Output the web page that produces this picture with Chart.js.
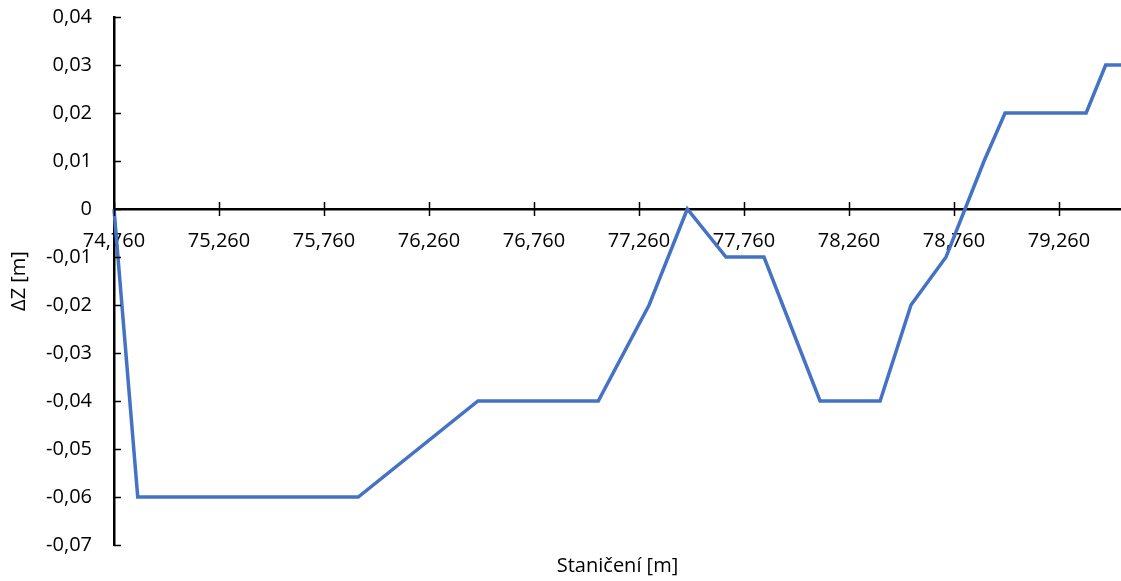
<!DOCTYPE html>
<html>
<head>
<meta charset="utf-8">
<script src="https://cdn.jsdelivr.net/npm/chart.js@4"></script>
<style>
  body { margin: 0; background: white; }
  #wrap { width: 1121px; height: 581px; }
</style>
</head>
<body>
<div id="wrap"><canvas id="profile-chart"></canvas></div>
<script>
// Staničení [km] a rozdíl výšek [m]
const stations = [74.760, 74.873, 75.923, 76.493, 77.066, 77.308, 77.490, 77.674, 77.855,
                  78.122, 78.408, 78.555, 78.722, 78.903, 79.003, 79.389, 79.482, 79.555];
const deltaZ   = [0, -0.06, -0.06, -0.04, -0.04, -0.02, 0, -0.01, -0.01,
                  -0.04, -0.04, -0.02, -0.01, 0.01, 0.02, 0.02, 0.03, 0.03];

const xTicks = [74.76, 75.26, 75.76, 76.26, 76.76, 77.26, 77.76, 78.26, 78.76, 79.26];
const xTickLabels = ['74,760', '75,260', '75,760', '76,260', '76,760', '77,260', '77,760', '78,260', '78,760', '79,260'];
const yTicks = [-0.07, -0.06, -0.05, -0.04, -0.03, -0.02, -0.01, 0, 0.01, 0.02, 0.03, 0.04];
const yTickLabels = ['-0,07', '-0,06', '-0,05', '-0,04', '-0,03', '-0,02', '-0,01', '0', '0,01', '0,02', '0,03', '0,04'];

const FONT = "'Open Sans', 'Noto Sans', sans-serif";

// tick marks: crossing on x axis, pointing inward on y axis, plus bottom title
const axisDecor = {
    id: 'axisDecor',
    afterDraw(chart) {
        const ctx = chart.ctx;
        const x = chart.scales.x, y = chart.scales.y;
        const y0 = y.getPixelForValue(0);
        ctx.save();
        ctx.strokeStyle = '#000';
        ctx.lineWidth = 1.5;
        ctx.beginPath();
        x.ticks.forEach(t => {
            const px = Math.round(x.getPixelForValue(t.value)) + 0.5;
            ctx.moveTo(px, y0 - 7);
            ctx.lineTo(px, y0 + 7);
        });
        y.ticks.forEach(t => {
            const py = Math.round(y.getPixelForValue(t.value)) + 0.5;
            ctx.moveTo(chart.chartArea.left, py);
            ctx.lineTo(chart.chartArea.left + 7, py);
        });
        ctx.stroke();
        ctx.fillStyle = '#000';
        ctx.font = '20px ' + FONT;
        ctx.textAlign = 'center';
        ctx.textBaseline = 'middle';
        ctx.fillText('Staničení [m]', (chart.chartArea.left + chart.chartArea.right) / 2, 566);
        ctx.restore();
    }
};

const profile_chart_ctx = document.getElementById('profile-chart').getContext('2d');
const profile_chart = new Chart(profile_chart_ctx, {
    type: 'line',
    data: {
        datasets: [{
            data: stations.map((s, i) => ({x: s, y: deltaZ[i]})),
            borderColor: '#4472C4',
            borderWidth: 3.5,
            pointRadius: 0,
            tension: 0,
            clip: false
        }]
    },
    options: {
        responsive: true,
        maintainAspectRatio: false,
        animation: false,
        layout: {padding: {top: 17, bottom: 36, left: 0, right: 0}},
        plugins: {
            legend: {display: false},
            tooltip: {enabled: false}
        },
        scales: {
            x: {
                type: 'linear',
                position: {y: 0},
                min: 74.76,
                max: 79.555,
                afterBuildTicks: scale => { scale.ticks = xTicks.map(v => ({value: v})); },
                ticks: {
                    color: '#000',
                    font: {family: FONT, size: 20},
                    padding: 20,
                    maxRotation: 0,
                    autoSkip: false,
                    callback: (v, i) => xTickLabels[i]
                },
                grid: {display: false, drawTicks: false},
                border: {color: '#000', width: 2.5}
            },
            y: {
                min: -0.07,
                max: 0.04,
                afterBuildTicks: scale => { scale.ticks = yTicks.map(v => ({value: v})); },
                afterFit: scale => {
                    scale.width = 114;
                    scale.paddingTop = 0;
                    scale.paddingBottom = 0;
                },
                ticks: {
                    color: '#000',
                    font: {family: FONT, size: 20},
                    padding: 22,
                    autoSkip: false,
                    callback: (v, i) => yTickLabels[i]
                },
                title: {
                    display: true,
                    text: 'ΔZ [m]',
                    color: '#000',
                    font: {family: FONT, size: 20},
                    padding: {top: 7, bottom: 0}
                },
                grid: {display: false, drawTicks: false},
                border: {color: '#000', width: 2.5}
            }
        }
    },
    plugins: [axisDecor]
});
</script>
</body>
</html>
